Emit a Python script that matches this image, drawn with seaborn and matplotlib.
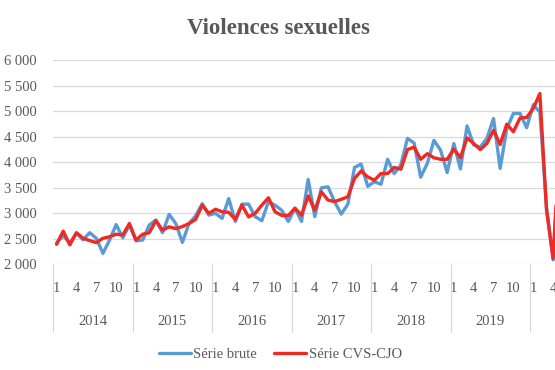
import pandas as pd
import seaborn as sns
import matplotlib.pyplot as plt
from matplotlib.ticker import FuncFormatter
from matplotlib.transforms import blended_transform_factory

# Monthly values, Jan 2014 -> May 2020
years = ['2014', '2015', '2016', '2017', '2018', '2019', '2020']
month_labels = ['1', '4', '7', '10']

serie_brute = [
    2420, 2560, 2420, 2610, 2480, 2620, 2510, 2215, 2475, 2780, 2520, 2770,
    2460, 2475, 2770, 2870, 2620, 2980, 2800, 2430, 2800, 2950, 3190, 2965,
    3000, 2900, 3290, 2840, 3180, 3180, 2935, 2855, 3225, 3160, 3060, 2840,
    3100, 2840, 3665, 2935, 3500, 3520, 3225, 2985, 3180, 3900, 3965, 3530,
    3620, 3570, 4060, 3780, 3950, 4470, 4380, 3710, 3980, 4430, 4240, 3800,
    4370, 3870, 4715, 4340, 4300, 4470, 4860, 3880, 4660, 4960, 4960, 4680,
    5130, 4990, 3130, 2085, 4300,
]
serie_cvs = [
    2392, 2650, 2380, 2620, 2510, 2465, 2425, 2510, 2540, 2590, 2575, 2800,
    2475, 2590, 2620, 2855, 2670, 2735, 2700, 2740, 2800, 2880, 3160, 3000,
    3080, 3030, 3020, 2880, 3160, 2930, 3000, 3160, 3305, 3030, 2960, 2955,
    3100, 2965, 3340, 3060, 3420, 3260, 3230, 3275, 3325, 3685, 3830, 3715,
    3650, 3780, 3780, 3900, 3865, 4250, 4300, 4060, 4170, 4090, 4060, 4060,
    4260, 4090, 4480, 4370, 4250, 4370, 4630, 4350, 4750, 4600, 4870, 4880,
    5055, 5350, 3065, 2115, 4500,
]

n = len(serie_brute)
df = pd.DataFrame({
    'mois': list(range(n)) * 2,
    'valeur': serie_brute + serie_cvs,
    'serie': ['Série brute'] * n + ['Série CVS-CJO'] * n,
})

sns.set_theme(style="whitegrid")
plt.rcParams['font.family'] = ['Liberation Serif', 'DejaVu Serif']
grey = '#595959'
grid_c = '#D9D9D9'

fig = plt.figure(figsize=(5.55, 3.7), dpi=100)
fig.patch.set_facecolor('white')
# plot area runs past the right edge (the reference is cropped)
ax = fig.add_axes([0.096, 0.2857, 1.002, 0.551])

sns.lineplot(data=df, x='mois', y='valeur', hue='serie', estimator=None,
             palette={'Série brute': '#5B9BD5', 'Série CVS-CJO': '#EE2A24'},
             linewidth=2.4, ax=ax, legend=True)

ax.set_xlim(-0.5, 83.5)
ax.set_ylim(2000, 6000)
ax.set_yticks(range(2000, 6001, 500))
ax.yaxis.set_major_formatter(FuncFormatter(lambda v, p: f"{int(v):,}".replace(",", " ")))
ax.grid(axis='y', color=grid_c, linewidth=0.9)
ax.grid(axis='x', visible=False)
for s in ax.spines.values():
    s.set_visible(False)
ax.set_xlabel('')
ax.set_ylabel('')

# month ticks 1, 4, 7, 10 in each year
ticks, labels = [], []
for k in range(len(years)):
    for j, m in enumerate(month_labels):
        ticks.append(k * 12 + j * 3)
        labels.append(m)
ax.set_xticks(ticks)
ax.set_xticklabels(labels)
ax.tick_params(axis='x', length=0, pad=13, labelsize=10.5, colors=grey)
ax.tick_params(axis='y', length=0, pad=12, labelsize=10.5, colors=grey)

# year labels and separators below the axis
trans = blended_transform_factory(ax.transData, ax.transAxes)
for k, y in enumerate(years):
    ax.text(k * 12 + 5.5, -0.28, y, transform=trans, ha='center', va='center',
            fontsize=10.5, color=grey, clip_on=False)
for k in range(len(years) + 1):
    ax.plot([k * 12 - 0.5, k * 12 - 0.5], [0, -0.33], transform=trans,
            color=grid_c, linewidth=0.9, clip_on=False)

handles, labs = ax.get_legend_handles_labels()
ax.get_legend().remove()
fig.legend(handles, labs, loc='center', bbox_to_anchor=(0.505, 0.043), ncol=2,
           frameon=False, fontsize=10.5, handlelength=2.2, handletextpad=0.15,
           columnspacing=1.2, labelcolor=grey)

fig.text(0.501, 1 - 28 / 370, 'Violences sexuelles', ha='center', va='center',
         fontsize=16.5, fontweight='bold', color=grey)

fig.savefig('out.png', dpi=100, facecolor='white')
